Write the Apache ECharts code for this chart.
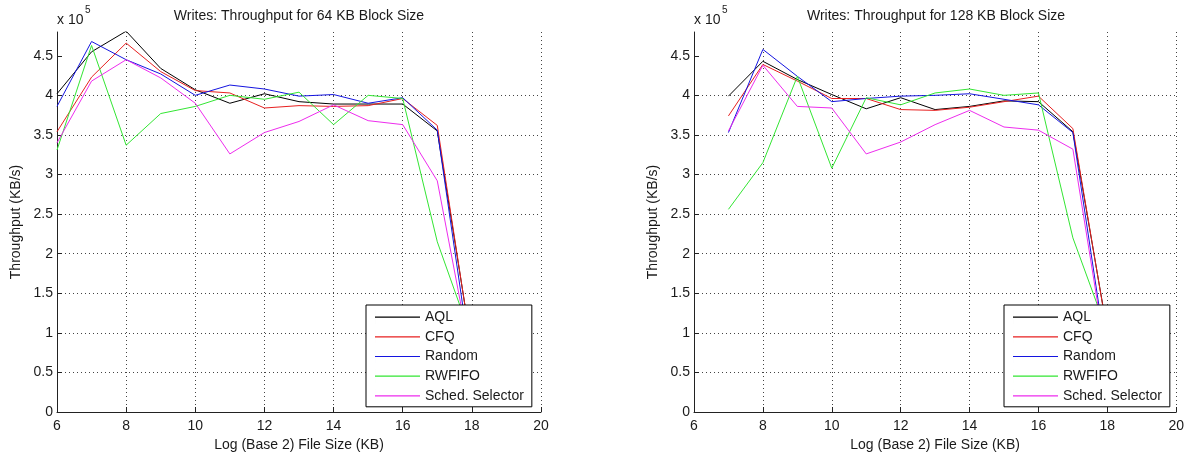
<!DOCTYPE html>
<html>
<head>
<meta charset="utf-8">
<script src="https://cdn.jsdelivr.net/npm/echarts@6/dist/echarts.min.js"></script>
<style>
html,body{margin:0;padding:0;background:#fff;}
#c{width:1187px;height:457px;}
</style>
</head>
<body>
<div id="c"></div>
<script>
// Values in units of 1e5 KB/s (as on the axis, "x 10^5")
var seriesNames = ['AQL', 'CFQ', 'Random', 'RWFIFO', 'Sched. Selector'];
var xLeft = [6, 7, 8, 9, 10, 11, 12, 13, 14, 15, 16, 17, 18];
var xRight = [7, 8, 9, 10, 11, 12, 13, 14, 15, 16, 17, 18];

var left_AQL    = [4.02, 4.55, 4.81, 4.34, 4.07, 3.90, 4.02, 3.92, 3.89, 3.89, 3.89, 3.55, 0.80];
var left_CFQ    = [3.54, 4.23, 4.66, 4.30, 4.06, 4.03, 3.84, 3.87, 3.86, 3.87, 3.96, 3.62, 0.78];
var left_Random = [3.86, 4.68, 4.45, 4.27, 4.00, 4.13, 4.08, 3.99, 4.01, 3.90, 3.97, 3.56, 0.55];
var left_RWFIFO = [3.31, 4.63, 3.37, 3.77, 3.86, 4.00, 3.95, 4.04, 3.63, 4.00, 3.96, 2.15, 0.92];
var left_Sched  = [3.40, 4.18, 4.45, 4.22, 3.90, 3.26, 3.53, 3.67, 3.88, 3.68, 3.63, 2.92, 0.63];

var right_AQL    = [3.99, 4.43, 4.20, 4.01, 3.83, 3.97, 3.82, 3.86, 3.93, 3.92, 3.54, 1.02];
var right_CFQ    = [3.74, 4.39, 4.18, 3.96, 3.96, 3.82, 3.81, 3.85, 3.92, 3.99, 3.58, 1.00];
var right_Random = [3.53, 4.58, 4.24, 3.92, 3.96, 3.99, 4.00, 4.02, 3.95, 3.88, 3.53, 0.64];
var right_RWFIFO = [2.56, 3.15, 4.24, 3.08, 3.97, 3.88, 4.03, 4.08, 4.00, 4.03, 2.20, 1.01];
var right_Sched  = [3.55, 4.38, 3.86, 3.84, 3.26, 3.41, 3.63, 3.81, 3.60, 3.56, 3.32, 0.61];

var yTicks = [0, 0.5, 1, 1.5, 2, 2.5, 3, 3.5, 4, 4.5];
var titles = ['Writes: Throughput for 64 KB Block Size', 'Writes: Throughput for 128 KB Block Size'];
var xName = 'Log (Base 2) File Size (KB)';
var yName = 'Throughput (KB/s)';

var colors = ['#000000', '#e82020', '#1414e0', '#33e633', '#ee2cee'];
var FONT = 'Liberation Sans, Arial, sans-serif';
var TXT = '#1a1a1a';

function zip(xs, ys) { return xs.map(function (x, i) { return [x, ys[i]]; }); }

var leftData = [left_AQL, left_CFQ, left_Random, left_RWFIFO, left_Sched];
var rightData = [right_AQL, right_CFQ, right_Random, right_RWFIFO, right_Sched];

var grids = [
  {left: 57, right: 646, top: 32, bottom: 43},
  {left: 694, right: 9, top: 32, bottom: 43}
];

function xAxis(i) {
  return {
    type: 'value', gridIndex: i, min: 6, max: 20, interval: 2,
    name: xName, nameLocation: 'middle', nameGap: 26,
    nameTextStyle: {fontFamily: FONT, fontSize: 14, color: TXT},
    axisLine: {show: true, onZero: false, lineStyle: {color: '#222', width: 1}},
    axisTick: {show: true, inside: true, length: 5, lineStyle: {color: '#222'}},
    axisLabel: {fontFamily: FONT, fontSize: 14, color: TXT, margin: 7},
    splitLine: {show: true, showMinLine: false, lineStyle: {color: '#444', type: [1, 3], width: 1}}
  };
}
function yAxis(i) {
  return {
    type: 'value', gridIndex: i, min: 0, max: 4.8, interval: 0.5,
    name: yName, nameLocation: 'middle', nameGap: 34, nameRotate: 90,
    nameTextStyle: {fontFamily: FONT, fontSize: 14, color: TXT},
    axisLine: {show: true, lineStyle: {color: '#222', width: 1}},
    axisTick: {show: true, inside: true, length: 5, customValues: yTicks, lineStyle: {color: '#222'}},
    axisLabel: {fontFamily: FONT, fontSize: 14, color: TXT, margin: 4, customValues: yTicks,
      formatter: function (v) { return String(Math.round(v * 10) / 10); }},
    splitLine: {show: true, showMinLine: false, showMaxLine: false, lineStyle: {color: '#444', type: [1, 3], width: 1}}
  };
}

var series = [];
seriesNames.forEach(function (n, k) {
  series.push({name: n, type: 'line', xAxisIndex: 0, yAxisIndex: 0, data: zip(xLeft, leftData[k]),
    symbol: 'none', lineStyle: {width: 1, color: colors[k]}, itemStyle: {color: colors[k]}, z: 2, animation: false});
  series.push({name: n, type: 'line', xAxisIndex: 1, yAxisIndex: 1, data: zip(xRight, rightData[k]),
    symbol: 'none', lineStyle: {width: 1, color: colors[k]}, itemStyle: {color: colors[k]}, z: 2, animation: false});
});

// thin horizontal line icon (bounding box spans full 45x14 so it is not stretched vertically)
var LINE_ICON = 'path://M0,0h0.01v14h-0.01z M0,6.5h45v1.2h-45z';

function legend(left) {
  return {
    data: seriesNames, orient: 'vertical', left: left, top: 305,
    padding: [5, 8, 4, 9], itemWidth: 45, itemHeight: 14, itemGap: 5.7,
    icon: LINE_ICON,
    backgroundColor: '#fff', borderColor: '#000', borderWidth: 1, borderRadius: 0,
    selectedMode: false, z: 10,
    textStyle: {fontFamily: FONT, fontSize: 14, color: TXT}
  };
}

var chart = echarts.init(document.getElementById('c'), null, {renderer: 'canvas'});
chart.setOption({
  backgroundColor: '#fff',
  animation: false,
  grid: grids,
  xAxis: [xAxis(0), xAxis(1)],
  yAxis: [yAxis(0), yAxis(1)],
  legend: [legend(366), legend(1004)],
  series: series,
  graphic: [
    {type: 'text', x: 299, y: 16, style: {text: titles[0], fontFamily: FONT, fontSize: 14, fill: TXT, align: 'center', verticalAlign: 'middle'}},
    {type: 'text', x: 936, y: 16, style: {text: titles[1], fontFamily: FONT, fontSize: 14, fill: TXT, align: 'center', verticalAlign: 'middle'}},
    {type: 'text', x: 57, y: 20, style: {text: 'x 10', fontFamily: FONT, fontSize: 14, fill: TXT, align: 'left', verticalAlign: 'middle'}},
    {type: 'text', x: 85, y: 10, style: {text: '5', fontFamily: FONT, fontSize: 10, fill: TXT, align: 'left', verticalAlign: 'middle'}},
    {type: 'text', x: 694, y: 20, style: {text: 'x 10', fontFamily: FONT, fontSize: 14, fill: TXT, align: 'left', verticalAlign: 'middle'}},
    {type: 'text', x: 722, y: 10, style: {text: '5', fontFamily: FONT, fontSize: 10, fill: TXT, align: 'left', verticalAlign: 'middle'}}
  ]
});
</script>
</body>
</html>
